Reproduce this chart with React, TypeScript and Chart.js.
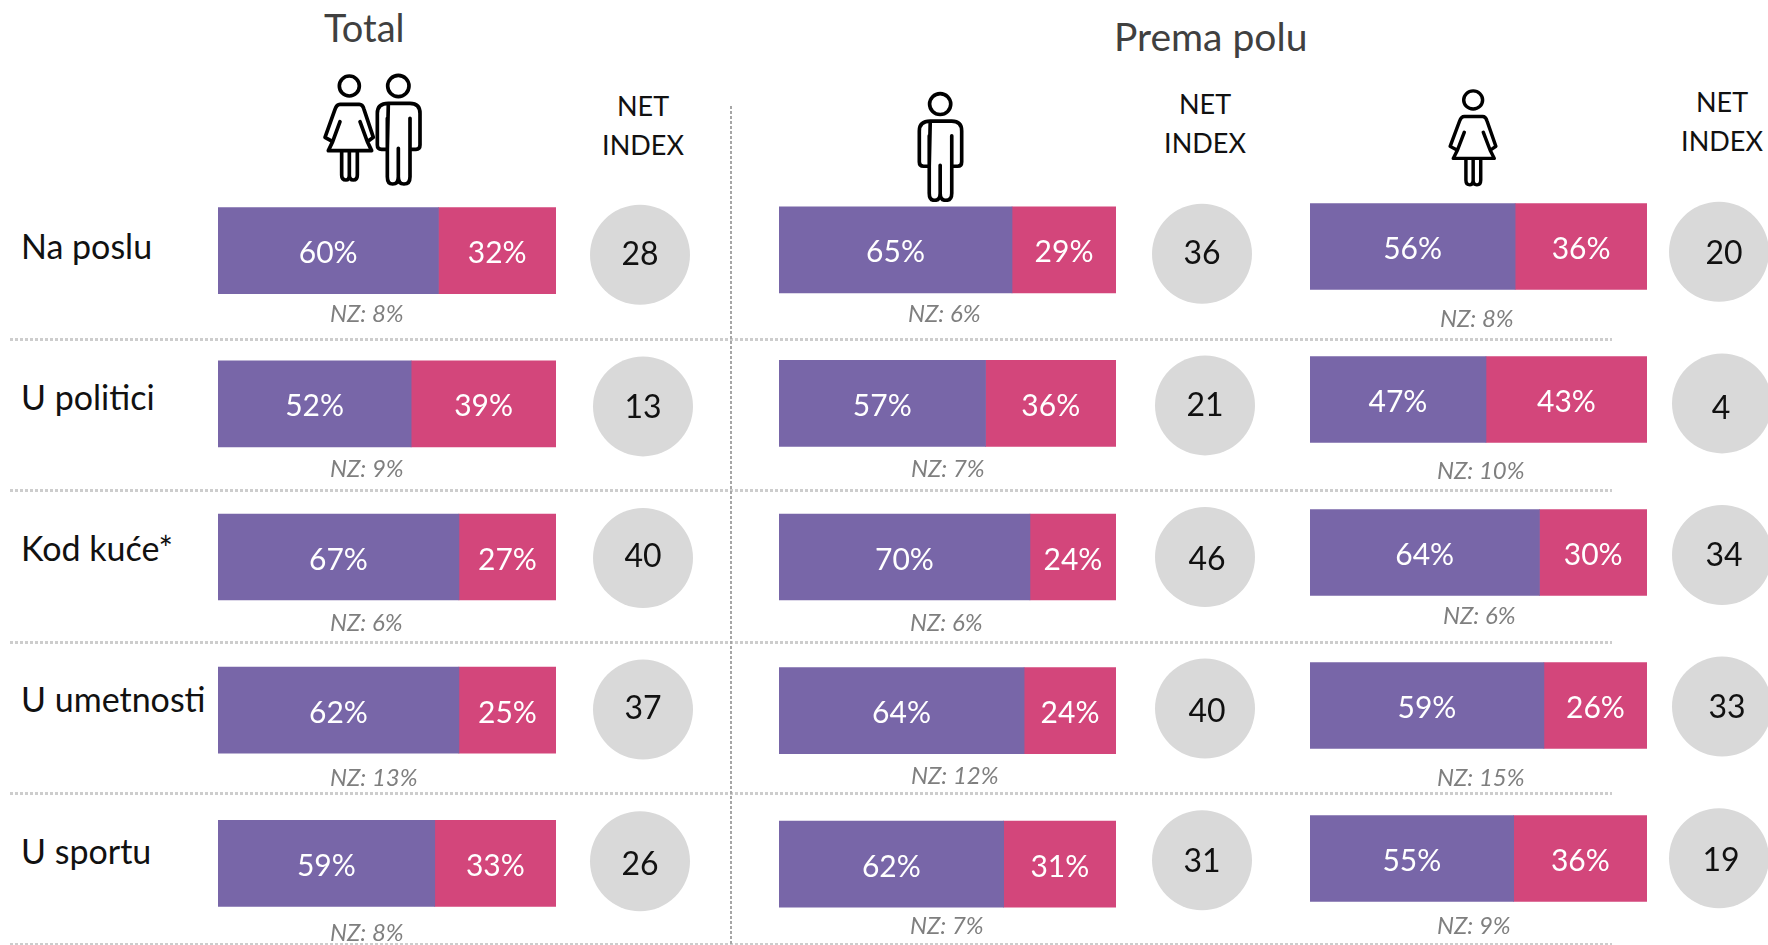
import React, { useEffect, useRef } from "react";
import { Chart, registerables } from "chart.js";

Chart.register(...registerables);

const rows = ["Na poslu", "U politici", "Kod kuće*", "U umetnosti", "U sportu"];

const totalFor = [60, 52, 67, 62, 59];
const totalAgainst = [32, 39, 27, 25, 33];
const totalNz = [8, 9, 6, 13, 8];
const totalNet = [28, 13, 40, 37, 26];

const menFor = [65, 57, 70, 64, 62];
const menAgainst = [29, 36, 24, 24, 31];
const menNz = [6, 7, 6, 12, 7];
const menNet = [36, 21, 46, 40, 31];

const womenFor = [56, 47, 64, 59, 55];
const womenAgainst = [36, 43, 30, 26, 36];
const womenNz = [8, 10, 6, 15, 9];
const womenNet = [20, 4, 34, 33, 19];

const PURPLE = "#7866A8";
const PINK = "#D3467B";
const GRAY = "#D9D9D9";
const FONT = "Lato, Carlito, sans-serif";

const circleNudge = [0, 3, 3, 3, 0];

const panels = [
  {
    pos: totalFor, neg: totalAgainst, net: totalNet, nz: totalNz,
    bar: { left: 218, top: 174, width: 338, height: 766 },
    circle: { left: 580, top: 179, width: 120, height: 758 },
    nzX: [330, 330, 330, 330, 330],
    nzY: [313, 468, 622, 777, 932],
    netDx: [0, 0, 0, 0, 0],
    netDy: [-1, 0, -2, -2, 2],
  },
  {
    pos: menFor, neg: menAgainst, net: menNet, nz: menNz,
    bar: { left: 779, top: 173, width: 337, height: 768 },
    circle: { left: 1142, top: 178, width: 120, height: 758 },
    nzX: [908, 911, 910, 911, 910],
    nzY: [313, 468, 622, 775, 925],
    netDx: [0, 0, 2, 2, 0],
    netDy: [-1, -1, 2, 2, 0],
  },
  {
    pos: womenFor, neg: womenAgainst, net: womenNet, nz: womenNz,
    bar: { left: 1310, top: 170, width: 337, height: 765 },
    circle: { left: 1659, top: 176, width: 120, height: 758 },
    nzX: [1440, 1437, 1443, 1437, 1437],
    nzY: [318, 470, 615, 777, 925],
    netDx: [5, -1, 2, 5, 2],
    netDy: [1, 4, 0, 0, 1],
  },
];

const rowLabelY = [246, 397, 548, 699, 851];
const hLineY = [338, 489, 641, 792, 943];

const netHeads = [
  { x: 643, y: 105 },
  { x: 1205, y: 103 },
  { x: 1722, y: 101 },
];

const barLabels = {
  id: "barLabels",
  afterDatasetsDraw(chart: any) {
    const ctx = chart.ctx;
    ctx.save();
    ctx.font = `400 30px ${FONT}`;
    ctx.fillStyle = "#ffffff";
    ctx.textAlign = "center";
    ctx.textBaseline = "middle";
    chart.data.datasets.forEach((ds: any, d: number) => {
      chart.getDatasetMeta(d).data.forEach((el: any, i: number) => {
        const c = el.getCenterPoint();
        ctx.fillText(`${ds.readings[i]}%`, c.x, c.y + 3);
      });
    });
    ctx.restore();
  },
};

const netLabels = {
  id: "netLabels",
  afterDatasetsDraw(chart: any) {
    const ctx = chart.ctx;
    ctx.save();
    ctx.font = `400 32px ${FONT}`;
    ctx.fillStyle = "#111111";
    ctx.textAlign = "center";
    ctx.textBaseline = "middle";
    const ds: any = chart.data.datasets[0];
    chart.getDatasetMeta(0).data.forEach((el: any, i: number) => {
      ctx.fillText(String(ds.readings[i]), el.x + ds.labelDx[i], el.y + 1 + ds.labelDy[i]);
    });
    ctx.restore();
  },
};

function BarPanel({ p }: { p: (typeof panels)[number] }) {
  const ref = useRef<HTMLCanvasElement>(null);
  useEffect(() => {
    const share = (a: number[], b: number[]) => a.map((v, i) => (v / (a[i] + b[i])) * 100);
    const chart = new Chart(ref.current!, {
      type: "bar",
      data: {
        labels: rows,
        datasets: [
          { label: "Pos", data: share(p.pos, p.neg), readings: p.pos, backgroundColor: PURPLE, barThickness: 86 } as any,
          { label: "Neg", data: share(p.neg, p.pos), readings: p.neg, backgroundColor: PINK, barThickness: 86 } as any,
        ],
      },
      options: {
        indexAxis: "y",
        responsive: false,
        animation: false,
        devicePixelRatio: 1,
        layout: { padding: 0, autoPadding: false },
        plugins: { legend: { display: false }, tooltip: { enabled: false } },
        scales: {
          x: { display: false, stacked: true, min: 0, max: 100 },
          y: { display: false, stacked: true },
        },
      },
      plugins: [barLabels],
    });
    return () => chart.destroy();
  }, [p]);
  return (
    <canvas
      ref={ref}
      width={p.bar.width}
      height={p.bar.height}
      style={{ position: "absolute", left: p.bar.left, top: p.bar.top, width: p.bar.width, height: p.bar.height }}
    />
  );
}

function CirclePanel({ p }: { p: (typeof panels)[number] }) {
  const ref = useRef<HTMLCanvasElement>(null);
  useEffect(() => {
    const chart = new Chart(ref.current!, {
      type: "scatter",
      data: {
        labels: rows,
        datasets: [
          {
            label: "NET INDEX",
            data: rows.map((r, i) => ({ x: circleNudge[i], y: r })),
            readings: p.net,
            labelDx: p.netDx,
            labelDy: p.netDy,
            backgroundColor: GRAY,
            borderWidth: 0,
            pointRadius: 50,
            clip: false,
          } as any,
        ],
      },
      options: {
        responsive: false,
        animation: false,
        devicePixelRatio: 1,
        layout: { padding: 0, autoPadding: false },
        plugins: { legend: { display: false }, tooltip: { enabled: false } },
        scales: {
          x: { type: "linear", display: false, min: -60, max: 60 },
          y: { type: "category", labels: rows, display: false, offset: true },
        },
      },
      plugins: [netLabels],
    });
    return () => chart.destroy();
  }, [p]);
  return (
    <canvas
      ref={ref}
      width={p.circle.width}
      height={p.circle.height}
      style={{ position: "absolute", left: p.circle.left, top: p.circle.top, width: p.circle.width, height: p.circle.height }}
    />
  );
}

const MAN =
  "M235 130 H300 Q330 130 330 160 V255 Q330 268 318 268 H300 V175 M300 268 V350 Q300 372 282 372 Q265 372 265 350 V265 M265 350 Q265 372 248 372 Q232 372 232 350 V175 M232 268 H215 Q202 268 202 255 V160 Q202 130 235 130 Z";
const WOMAN =
  "M90 133 H148 Q158 133 162 148 L190 232 L172 245 L150 185 M172 245 L185 272 H55 L68 245 L45 232 L75 148 Q80 133 90 133 M68 245 L90 185 M95 272 V345 Q95 360 108 360 Q118 360 118 345 V272 M118 345 Q118 360 130 360 Q142 360 142 345 V272";

function Figure({ box, viewBox, man, woman }: any) {
  return (
    <svg
      viewBox={viewBox}
      preserveAspectRatio="none"
      style={{ position: "absolute", left: box.left, top: box.top, width: box.width, height: box.height }}
    >
      {woman && (
        <g fill="none" stroke="#000" strokeWidth={11} strokeLinejoin="round" strokeLinecap="round">
          <circle cx={118} cy={78} r={30} />
          <path d={WOMAN} />
        </g>
      )}
      {man && (
        <g fill="none" stroke="#000" strokeWidth={11} strokeLinejoin="round" strokeLinecap="round">
          <circle cx={265} cy={78} r={32} />
          <path d={MAN} />
        </g>
      )}
    </svg>
  );
}

const text = (extra: React.CSSProperties): React.CSSProperties => ({
  position: "absolute",
  fontFamily: FONT,
  fontWeight: 400,
  whiteSpace: "nowrap",
  lineHeight: 1,
  transform: "translateY(-50%)",
  ...extra,
});

export default function App() {
  return (
    <div style={{ position: "absolute", left: 0, top: 0, width: 1768, height: 945, overflow: "hidden", background: "#fff" }}>
      <div style={text({ left: 324, top: 27, fontSize: 38, color: "#404040" })}>Total</div>
      <div style={text({ left: 1114, top: 36, fontSize: 39, color: "#404040" })}>Prema polu</div>

      <Figure box={{ left: 310, top: 60, width: 130, height: 140 }} viewBox="0 0 390 420" man woman />
      <Figure box={{ left: 917, top: 90, width: 47, height: 112 }} viewBox="195 35 142 342" man />
      <Figure box={{ left: 1447, top: 87, width: 52, height: 100 }} viewBox="35 35 165 332" woman />

      {netHeads.map((h, i) => (
        <React.Fragment key={i}>
          <div style={text({ left: h.x, top: h.y, fontSize: 27, color: "#111", transform: "translate(-50%,-50%)" })}>NET</div>
          <div style={text({ left: h.x, top: h.y + 39, fontSize: 27, color: "#111", transform: "translate(-50%,-50%)" })}>INDEX</div>
        </React.Fragment>
      ))}

      {rows.map((r, i) => (
        <div key={r} style={text({ left: 21, top: rowLabelY[i], fontSize: 34, color: "#111" })}>{r}</div>
      ))}

      {hLineY.map((y, i) => (
        <div
          key={i}
          style={{
            position: "absolute",
            left: 10,
            top: y,
            width: 1602,
            height: 3,
            background: "repeating-linear-gradient(90deg, #CDCDCD 0 3px, transparent 3px 5px)",
          }}
        />
      ))}
      <div
        style={{
          position: "absolute",
          left: 730,
          top: 106,
          width: 2,
          height: 839,
          background: "repeating-linear-gradient(180deg, #A6A6A6 0 3px, transparent 3px 5px)",
        }}
      />

      {panels.map((p, k) => (
        <React.Fragment key={k}>
          <BarPanel p={p} />
          <CirclePanel p={p} />
          {p.nz.map((v, i) => (
            <div
              key={i}
              style={text({
                left: p.nzX[i],
                top: p.nzY[i],
                fontSize: 24,
                fontStyle: "italic",
                color: "#7F7F7F",
              })}
            >
              {`NZ: ${v}%`}
            </div>
          ))}
        </React.Fragment>
      ))}
    </div>
  );
}
